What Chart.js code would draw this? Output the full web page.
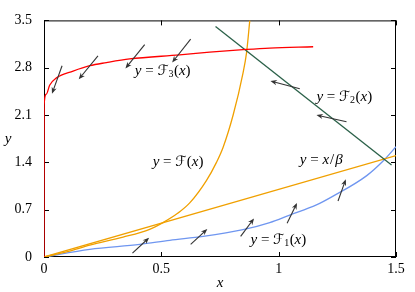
<!DOCTYPE html>
<html>
<head>
<meta charset="utf-8">
<script src="https://cdn.jsdelivr.net/npm/chart.js@4.4.1/dist/chart.umd.min.js"></script>
<style>
  html, body { margin: 0; padding: 0; background: #fff; }
  canvas { display: block; }
</style>
</head>
<body>
<canvas id="chartCurvas" width="415" height="292"></canvas>
<script>
// === Dados ===
const xTicks = [0, 0.5, 1, 1.5];
const xTickLabels = ["0", "0.5", "1", "1.5"];
const yTicks = [0, 0.7, 1.4, 2.1, 2.8, 3.5];
const yTickLabels = ["0", "0.7", "1.4", "2.1", "2.8", "3.5"];

// y = F3(x)
const f3X = [0, 0.0005, 0.01, 0.024, 0.053, 0.124, 0.195, 0.266, 0.365, 0.578, 0.706, 0.863, 0.962, 1.147];
const f3Y = [0, 2.25, 2.41, 2.54, 2.65, 2.75, 2.83, 2.876, 2.93, 2.99, 3.03, 3.07, 3.09, 3.11];

// y = F2(x)
const f2X = [0.731, 1.481];
const f2Y = [3.41, 1.36];

// y = F(x)
const fX = [0, 0.1, 0.195, 0.337, 0.45, 0.507, 0.571, 0.621, 0.692, 0.735, 0.763, 0.806, 0.848, 0.863, 0.877];
const fY = [0, 0.08, 0.176, 0.294, 0.41, 0.509, 0.65, 0.80, 1.13, 1.40, 1.62, 2.10, 2.72, 3.02, 3.5];

// y = x/beta
const retaX = [0, 1.5];
const retaY = [0, 1.5];

// y = F1(x)
const f1X = [0, 0.195, 0.408, 0.536, 0.678, 0.848, 0.962, 1.047, 1.161, 1.232, 1.374, 1.445, 1.5];
const f1Y = [0, 0.114, 0.186, 0.247, 0.304, 0.404, 0.509, 0.62, 0.77, 0.90, 1.2, 1.42, 1.63];

// setas: [x0, y0, x1, y1] (cauda -> ponta)
const setas = [
  [0.077, 2.829, 0.034, 2.414],
  [0.230, 2.976, 0.148, 2.629],
  [0.429, 3.143, 0.347, 2.790],
  [0.625, 3.223, 0.546, 2.876],
  [1.090, 2.490, 0.965, 2.604],
  [1.289, 2.000, 1.161, 2.100],
  [0.377, 0.057, 0.448, 0.286],
  [0.625, 0.186, 0.696, 0.414],
  [0.838, 0.304, 0.895, 0.571],
  [1.036, 0.500, 1.078, 0.800],
  [1.253, 0.829, 1.286, 1.150]
];

// rótulos: [x, y, índice]
const rotulos = [
  [0.387, 2.746, "3"],
  [1.161, 2.366, "2"],
  [0.463, 1.404, ""],
  [0.880, 0.247, "1"]
];
const rotuloReta = [1.090, 1.433];

const SERIF = "'Liberation Serif', serif";
const SCRIPT = "'DejaVu Sans'";

function pontos(xs, ys) {
  return xs.map((x, i) => ({ x: x, y: ys[i] }));
}

function serie(xs, ys, cor) {
  return {
    data: pontos(xs, ys),
    showLine: true,
    borderColor: cor,
    borderWidth: 1.3,
    pointRadius: 0,
    fill: false,
    cubicInterpolationMode: "monotone"
  };
}

// === Plugin: moldura, ticks internos, setas e textos ===
const extras = {
  id: "extras",
  beforeDatasetsDraw(chart) {
    const ctx = chart.ctx;
    const a = chart.chartArea;
    const sx = chart.scales.x, sy = chart.scales.y;
    ctx.save();
    ctx.strokeStyle = "#000";
    ctx.lineWidth = 1;
    ctx.strokeRect(a.left + 0.5, a.top + 0.5, a.right - a.left - 1, a.bottom - a.top - 1);
    ctx.beginPath();
    xTicks.forEach(v => {
      const px = Math.round(sx.getPixelForValue(v)) + 0.5;
      ctx.moveTo(px, a.bottom); ctx.lineTo(px, a.bottom - 5);
      ctx.moveTo(px, a.top); ctx.lineTo(px, a.top + 5);
    });
    yTicks.forEach(v => {
      const py = Math.round(sy.getPixelForValue(v)) + 0.5;
      ctx.moveTo(a.left, py); ctx.lineTo(a.left + 5, py);
      ctx.moveTo(a.right, py); ctx.lineTo(a.right - 5, py);
    });
    ctx.stroke();
    ctx.restore();
  },
  afterDatasetsDraw(chart) {
    const ctx = chart.ctx;
    const sx = chart.scales.x, sy = chart.scales.y;
    ctx.save();
    ctx.strokeStyle = "#333";
    ctx.fillStyle = "#333";
    ctx.lineWidth = 1.1;
    setas.forEach(s => {
      const x0 = sx.getPixelForValue(s[0]), y0 = sy.getPixelForValue(s[1]);
      const x1 = sx.getPixelForValue(s[2]), y1 = sy.getPixelForValue(s[3]);
      const ang = Math.atan2(y1 - y0, x1 - x0);
      ctx.beginPath();
      ctx.moveTo(x0, y0);
      ctx.lineTo(x1 - 2 * Math.cos(ang), y1 - 2 * Math.sin(ang));
      ctx.stroke();
      ctx.beginPath();
      ctx.moveTo(x1, y1);
      ctx.lineTo(x1 - 7 * Math.cos(ang - 0.38), y1 - 7 * Math.sin(ang - 0.38));
      ctx.lineTo(x1 - 4.5 * Math.cos(ang), y1 - 4.5 * Math.sin(ang));
      ctx.lineTo(x1 - 7 * Math.cos(ang + 0.38), y1 - 7 * Math.sin(ang + 0.38));
      ctx.closePath();
      ctx.fill();
    });

    ctx.fillStyle = "#000";
    ctx.textBaseline = "middle";
    ctx.textAlign = "left";

    function trecho(txt, x, y, fonte) {
      ctx.font = fonte;
      ctx.fillText(txt, x, y);
      return x + ctx.measureText(txt).width;
    }
    const it = "italic 15px " + SERIF;
    const rm = "15px " + SERIF;
    const sc = "14px " + SCRIPT;
    const sub = "10px " + SERIF;

    rotulos.forEach(r => {
      let x = sx.getPixelForValue(r[0]);
      const y = sy.getPixelForValue(r[1]);
      x = trecho("y", x, y, it);
      x = trecho(" = ", x, y, rm);
      x = trecho("\u2131", x, y, sc);
      if (r[2]) x = trecho(r[2], x, y + 3, sub);
      x = trecho("(", x + 0.5, y, rm);
      x = trecho("x", x, y, it);
      trecho(")", x, y, rm);
    });

    let x = sx.getPixelForValue(rotuloReta[0]);
    const y = sy.getPixelForValue(rotuloReta[1]);
    x = trecho("y", x, y, it);
    x = trecho(" = ", x, y, rm);
    x = trecho("x", x, y, it);
    x = trecho("/", x + 1, y, rm);
    trecho("\u03B2", x + 1, y, it);

    // títulos dos eixos
    ctx.textAlign = "center";
    ctx.font = it;
    const a = chart.chartArea;
    ctx.fillText("x", (a.left + a.right) / 2, 283);
    ctx.fillText("y", 8, (a.top + a.bottom) / 2);
    ctx.restore();
  }
};

// === Gráfico ===
const ctx = document.getElementById("chartCurvas").getContext("2d");
const chartCurvas = new Chart(ctx, {
  type: "scatter",
  data: {
    datasets: [
      serie(f3X, f3Y, "#ff0000"),
      serie(f2X, f2Y, "#2a6048"),
      serie(fX, fY, "#f0a000"),
      serie(retaX, retaY, "#f0a000"),
      serie(f1X, f1Y, "#6f96f0")
    ]
  },
  options: {
    responsive: false,
    devicePixelRatio: 1,
    animation: false,
    layout: { padding: { top: 12, right: 19, left: 0, bottom: 0 } },
    plugins: { legend: { display: false }, tooltip: { enabled: false } },
    scales: {
      x: {
        type: "linear",
        min: 0,
        max: 1.5,
        afterBuildTicks: s => { s.ticks = xTicks.map(v => ({ value: v })); },
        afterFit: s => { s.height = 35; },
        ticks: {
          callback: (v, i) => xTickLabels[i],
          font: { family: SERIF, size: 14 },
          color: "#000",
          padding: 4,
          maxRotation: 0
        },
        grid: { display: true, drawOnChartArea: false, drawTicks: false },
        border: { display: false }
      },
      y: {
        type: "linear",
        min: 0,
        max: 3.5,
        afterBuildTicks: s => { s.ticks = yTicks.map(v => ({ value: v })); },
        afterFit: s => { s.width = 44; },
        ticks: {
          callback: (v, i) => yTickLabels[i],
          font: { family: SERIF, size: 14 },
          color: "#000",
          padding: 12
        },
        grid: { display: true, drawOnChartArea: false, drawTicks: false },
        border: { display: false }
      }
    }
  },
  plugins: [extras]
});
</script>
</body>
</html>
